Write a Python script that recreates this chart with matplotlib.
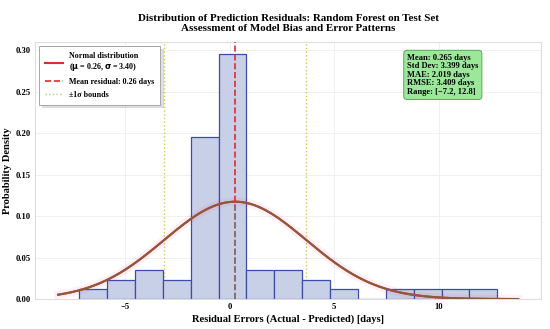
import numpy as np
import matplotlib
matplotlib.use("Agg")
import matplotlib.pyplot as plt

# histogram of residuals (density), 15 bins over [-7.2, 12.8]
bin_edges = [-7.2, -5.867, -4.533, -3.2, -1.867, -0.533, 0.8, 2.133,
             3.467, 4.8, 6.133, 7.467, 8.8, 10.133, 11.467, 12.8]
densities = [0.0117, 0.0234, 0.035, 0.0234, 0.1955, 0.295, 0.035, 0.035,
             0.0234, 0.0117, 0.0, 0.0117, 0.0117, 0.0117, 0.0117]

mu = 0.265
sigma = 3.399
stats_lines = ["Mean: 0.265 days", "Std Dev: 3.399 days", "MAE: 2.019 days",
               "RMSE: 3.409 days", "Range: [\u22127.2, 12.8]"]

serif = ["Liberation Serif", "DejaVu Serif"]
plt.rcParams["font.family"] = serif
plt.rcParams["font.weight"] = "bold"

fig, ax = plt.subplots(figsize=(5.5, 3.29), dpi=100)
fig.subplots_adjust(left=0.064, right=0.984, top=0.872, bottom=0.091)

edges = np.array(bin_edges)
ax.bar(edges[:-1], densities, width=np.diff(edges), align="edge",
       facecolor="#c8d0e7", edgecolor="#3b4cad", linewidth=0.9, zorder=2)

xs = np.linspace(edges[0] - 1, edges[-1] + 1, 300)
pdf = np.exp(-0.5 * ((xs - mu) / sigma) ** 2) / (sigma * np.sqrt(2 * np.pi))
ax.plot(xs, pdf, color="#ff3080", lw=6, alpha=0.07, zorder=3)
ax.plot(xs, pdf, color="#e8262e", lw=1.5, zorder=3,
        label="Normal distribution\n($\\mathbf{\\mu}$ = 0.26, $\\mathbf{\\sigma}$ = 3.40)")
ax.plot(xs, pdf, color="#8e5a3c", lw=1.5, zorder=4)

peak = 1 / (sigma * np.sqrt(2 * np.pi))
ax.axvline(mu, color="#e8262e", ls="--", lw=1.2, zorder=5,
           label="Mean residual: 0.26 days")
ax.plot([mu, mu], [0, peak], color="#777777", ls="--", lw=1.2, zorder=6)
ax.axvline(mu - sigma, color="#cccc55", ls=":", lw=1, zorder=1,
           label="\u00b11\u03c3 bounds")
ax.axvline(mu + sigma, color="#cccc55", ls=":", lw=1, zorder=1)

ax.set_ylim(bottom=0)
ax.set_xticks([-5, 0, 5, 10])
ax.set_xticklabels(["\u22125", "0", "5", "10"])
ax.set_yticks(np.arange(0, 0.31, 0.05))
ax.tick_params(labelsize=6.2, length=0, pad=3)
ax.grid(True, color="#eeeeee", lw=0.6, zorder=0)
ax.set_axisbelow(True)
for s in ax.spines.values():
    s.set_color("#dddddd")
    s.set_linewidth(0.8)

ax.set_xlabel("Residual Errors (Actual - Predicted) [days]", fontsize=7.6,
              fontweight="bold", labelpad=2)
ax.set_ylabel("Probability Density", fontsize=7.6, fontweight="bold", labelpad=3)
ax.set_title("Distribution of Prediction Residuals: Random Forest on Test Set\n"
             "Assessment of Model Bias and Error Patterns",
             fontsize=7.9, fontweight="bold", pad=8, linespacing=1.2)

leg = ax.legend(loc="upper left", frameon=True,
                shadow={"alpha": 0.25, "color": "#888888"},
                fancybox=False, borderpad=0.7, handlelength=2.2, labelspacing=0.6,
                prop={"family": serif, "weight": "bold", "size": 5.8})
leg.get_frame().set_edgecolor("#999999")
leg.get_frame().set_linewidth(0.6)

ax.text(0.735, 0.955, "\n".join(stats_lines), transform=ax.transAxes,
        va="top", ha="left", fontsize=6.1, fontweight="bold", linespacing=1.1,
        bbox=dict(boxstyle="round,pad=0.4", facecolor="#90e690",
                  edgecolor="#4aa04a", alpha=0.9, linewidth=0.7), zorder=10)

fig.savefig("out.png", dpi=100)
